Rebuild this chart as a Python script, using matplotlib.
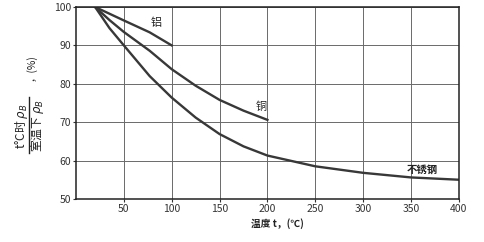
import matplotlib
matplotlib.use("Agg")
import matplotlib.pyplot as plt
from matplotlib.lines import Line2D

plt.rcParams['font.family'] = ['Noto Sans CJK SC', 'DejaVu Sans']

# data
al_t = [20, 50, 77, 100]
al_v = [100, 96.5, 93.4, 90.0]
cu_t = [20, 35, 50, 77, 100, 125, 150, 175, 200]
cu_v = [100, 96.6, 93.5, 88.6, 83.8, 79.5, 75.8, 73.0, 70.6]
ss_t = [20, 35, 50, 77, 100, 125, 150, 175, 200, 250, 300, 350, 400]
ss_v = [100, 94.5, 90.0, 82.0, 76.4, 71.2, 66.9, 63.7, 61.3, 58.5, 56.8, 55.6, 55.0]
x_ticks = [50, 100, 150, 200, 250, 300, 350, 400]
y_ticks = [50, 60, 70, 80, 90, 100]

fig = plt.figure(figsize=(4.84, 2.42), dpi=100)
ax = fig.add_axes([0.157, 0.178, 0.791, 0.793])
ax.set_xlim(0, 400)
ax.set_ylim(50, 100)
ax.set_xticks(x_ticks)
ax.set_yticks(y_ticks)
ax.grid(True, color='#6a6a6a', linewidth=0.7)
ax.set_axisbelow(True)
for s in ax.spines.values():
    s.set_color('#222222')
    s.set_linewidth(1.1)
ax.tick_params(axis='both', length=2, width=0.8, colors='#333333', labelsize=7.5, pad=1.5)

lc = '#383838'
ax.plot(al_t, al_v, color=lc, lw=1.7)
ax.plot(cu_t, cu_v, color=lc, lw=1.7)
ax.plot(ss_t, ss_v, color=lc, lw=1.7)

ax.text(84, 96.0, '铝', fontsize=8, color='#222222', ha='center', va='center', rotation=0)
ax.text(193, 74.0, '铜', fontsize=8, color='#222222', ha='center', va='center', rotation=0)
ax.text(362, 57.6, '不锈钢', fontsize=7.5, color='#222222', ha='center', va='center', fontweight='bold', rotation=0)

fig.text(0.573, 0.078, '温度 t，(℃)', fontsize=7, color='#222222', ha='center', va='center', fontweight='bold')

# y label drawn as rotated fraction
fig.text(21/484, 1-126/242, 't°C时 $\\rho_B$', rotation=90, fontsize=8.5, color='#222222', ha='center', va='center')
fig.add_artist(Line2D([29/484, 29/484], [1-97/242, 1-153/242], color='#222222', lw=1.0, transform=fig.transFigure))
fig.text(37.5/484, 1-126/242, '室温下 $\\rho_B$', rotation=90, fontsize=8.5, color='#222222', ha='center', va='center')
fig.text(31/484, 1-68/242, '，(%)', rotation=90, fontsize=7.5, color='#222222', ha='center', va='center')

fig.savefig('out.png', dpi=100, facecolor='white')
